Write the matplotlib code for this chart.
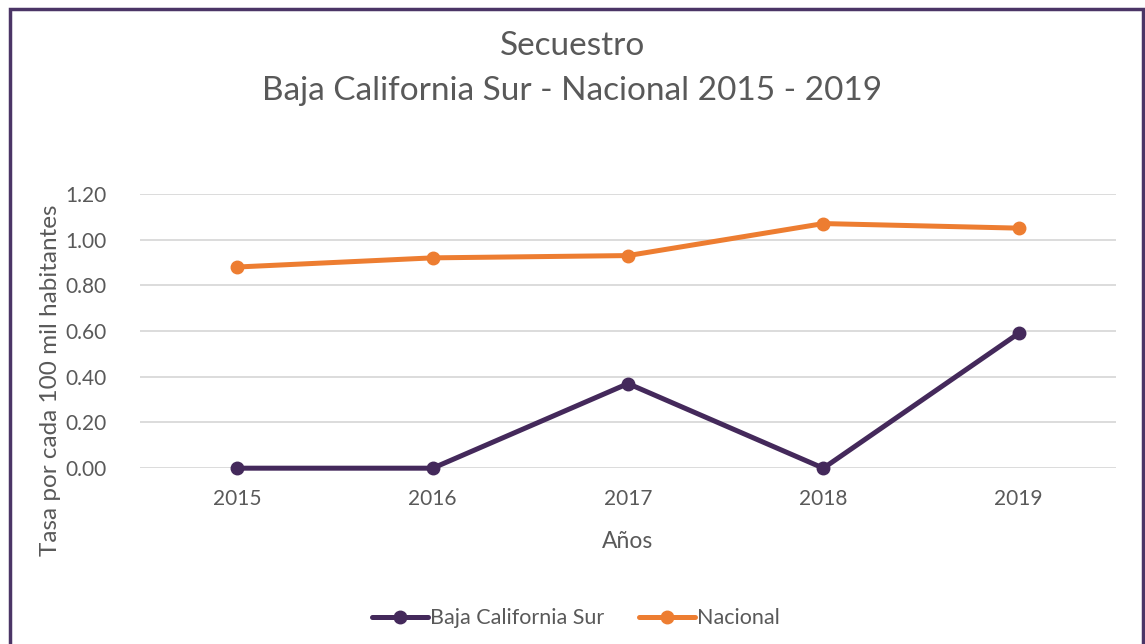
import matplotlib.pyplot as plt
from matplotlib.patches import Rectangle

years = ['2015', '2016', '2017', '2018', '2019']
bcs = [0.00, 0.00, 0.37, 0.00, 0.59]
nacional = [0.88, 0.92, 0.93, 1.07, 1.05]
yticks = [0.0, 0.2, 0.4, 0.6, 0.8, 1.0, 1.2]

gray = '#595959'
purple = '#44295B'
orange = '#ED7D31'

plt.rcParams['font.family'] = ['Lato', 'DejaVu Sans']
fig = plt.figure(figsize=(11.45, 6.44), dpi=100)
ax = fig.add_axes([0.122, 0.273, 0.853, 0.426])

x = range(len(years))
ax.plot(x, bcs, color=purple, linewidth=3.6, marker='o', markersize=9,
        label='Baja California Sur', solid_capstyle='round', clip_on=False)
ax.plot(x, nacional, color=orange, linewidth=3.6, marker='o', markersize=9,
        label='Nacional', solid_capstyle='round', clip_on=False)

ax.set_xlim(-0.5, len(years) - 0.5)
ax.set_ylim(0, 1.2)
ax.set_xticks(list(x))
ax.set_xticklabels(years, fontsize=15, color=gray)
ax.set_yticks(yticks)
ax.set_yticklabels(['%.2f' % v for v in yticks], fontsize=15, color=gray)
ax.tick_params(length=0, pad=15)
ax.tick_params(axis='y', pad=24)
ax.grid(axis='y', color='#D9D9D9', linewidth=1.3)
ax.set_axisbelow(True)
for s in ax.spines.values():
    s.set_visible(False)
ax.set_xlabel('Años', fontsize=16.5, color=gray, labelpad=16)
ax.set_ylabel('Tasa por cada 100 mil habitantes', fontsize=17.5, color=gray)
ax.yaxis.set_label_coords(-0.081, 0.32)

fig.text(0.5, 0.928, 'Secuestro', ha='center', va='center', fontsize=24, color=gray)
fig.text(0.5, 0.858, 'Baja California Sur - Nacional 2015 - 2019', ha='center', va='center',
         fontsize=24, color=gray)

ax.legend(loc='center', bbox_to_anchor=(0.503, 0.04), bbox_transform=fig.transFigure,
          ncol=2, frameon=False, fontsize=15.5, labelcolor=gray, handlelength=2.6,
          handletextpad=0.1, columnspacing=1.6)

fig.patches.append(Rectangle((10 / 1145, -0.05), 1133 / 1145, 1.05 - 9 / 644,
                             transform=fig.transFigure, fill=False,
                             edgecolor='#4B3566', linewidth=2.5))

plt.savefig('out.png')
